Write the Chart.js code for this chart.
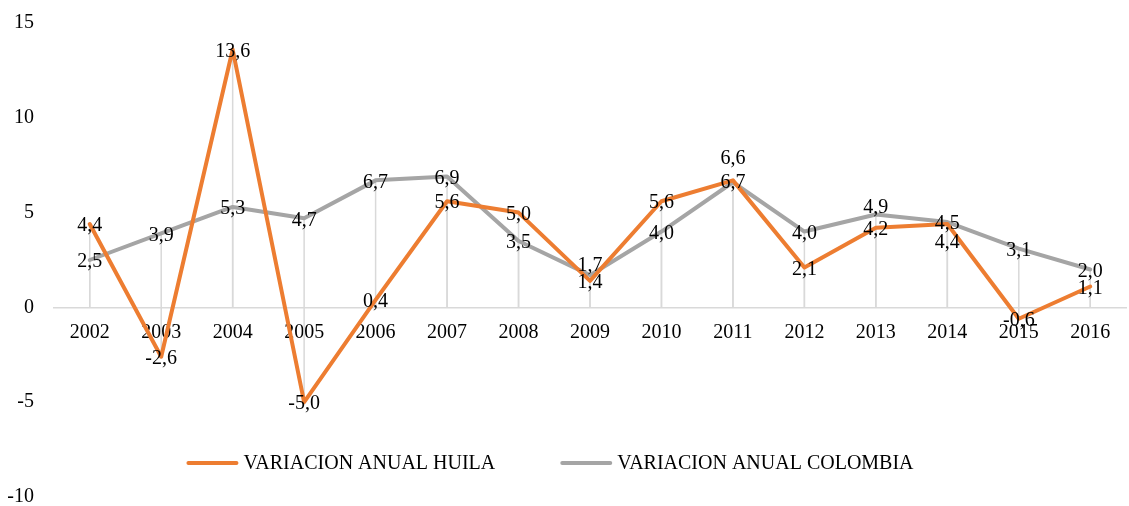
<!DOCTYPE html>
<html>
<head>
<meta charset="utf-8">
<script src="https://cdn.jsdelivr.net/npm/chart.js@4.4.1/dist/chart.umd.min.js"></script>
<style>
    html, body { margin: 0; padding: 0; background: #fff; }
    #wrap { width: 1129px; height: 506px; }
</style>
</head>
<body>
<div id="wrap"><canvas id="chart"></canvas></div>
<script>
const years = ['2002', '2003', '2004', '2005', '2006', '2007', '2008', '2009', '2010', '2011', '2012', '2013', '2014', '2015', '2016'];
const huila = [4.4, -2.6, 13.6, -5.0, 0.4, 5.6, 5.0, 1.4, 5.6, 6.7, 2.1, 4.2, 4.4, -0.6, 1.1];
const colombia = [2.5, 3.9, 5.3, 4.7, 6.7, 6.9, 3.5, 1.7, 4.0, 6.6, 4.0, 4.9, 4.5, 3.1, 2.0];
const yTicks = [-10, -5, 0, 5, 10, 15];
const seriesNames = ['VARIACION ANUAL HUILA', 'VARIACION ANUAL COLOMBIA'];

const FONT = '"Liberation Serif", "Times New Roman", serif';
const TEXT = '#000';

// a few labels were nudged by hand in the original (dataset -> index -> px)
const labelNudge = {
    0: { 12: 17 },
    1: { 7: -11, 9: -26, 11: -9 },
};

const dropLines = {
    id: 'dropLines',
    beforeDatasetsDraw(chart) {
        const { ctx } = chart;
        const zero = chart.scales.y.getPixelForValue(0);
        ctx.save();
        ctx.strokeStyle = '#d9d9d9';
        ctx.lineWidth = 1.5;
        chart.data.datasets.forEach((ds, i) => {
            chart.getDatasetMeta(i).data.forEach((pt) => {
                ctx.beginPath();
                ctx.moveTo(pt.x, pt.y);
                ctx.lineTo(pt.x, zero);
                ctx.stroke();
            });
        });
        ctx.restore();
    },
};

const valueLabels = {
    id: 'valueLabels',
    afterDatasetsDraw(chart) {
        const { ctx } = chart;
        ctx.save();
        ctx.font = '20px ' + FONT;
        ctx.fillStyle = TEXT;
        ctx.textAlign = 'center';
        ctx.textBaseline = 'middle';
        chart.data.datasets.forEach((ds, i) => {
            chart.getDatasetMeta(i).data.forEach((pt, j) => {
                const nudge = (labelNudge[i] && labelNudge[i][j]) || 0;
                const txt = ds.data[j].toFixed(1).replace('.', ',');
                ctx.fillText(txt, pt.x, pt.y + 2 + nudge);
            });
        });
        ctx.restore();
    },
};

const bottomLegend = {
    id: 'bottomLegend',
    afterDraw(chart) {
        const { ctx } = chart;
        const centerX = 550;
        const y = 463;
        const lineLen = 52;
        const gap = 5;
        const itemGap = 65;
        ctx.save();
        ctx.font = '20px ' + FONT;
        const items = chart.data.datasets.map((ds) => ({
            color: ds.borderColor,
            label: ds.label,
            w: lineLen + gap + ctx.measureText(ds.label).width,
        }));
        const total = items.reduce((s, it) => s + it.w, 0) + itemGap * (items.length - 1);
        let x = centerX - total / 2;
        items.forEach((it) => {
            ctx.strokeStyle = it.color;
            ctx.lineWidth = 4;
            ctx.lineCap = 'round';
            ctx.beginPath();
            ctx.moveTo(x + 2, y);
            ctx.lineTo(x + lineLen - 2, y);
            ctx.stroke();
            ctx.fillStyle = TEXT;
            ctx.textAlign = 'left';
            ctx.textBaseline = 'middle';
            ctx.fillText(it.label, x + lineLen + gap, y + 1);
            x += it.w + itemGap;
        });
        ctx.restore();
    },
};

Chart.defaults.font.family = FONT;
Chart.defaults.font.size = 20;
Chart.defaults.color = TEXT;

new Chart(document.getElementById('chart'), {
    type: 'line',
    data: {
        labels: years,
        datasets: [
            {
                label: seriesNames[0],
                data: huila,
                borderColor: '#ED7D31',
                backgroundColor: '#ED7D31',
            },
            {
                label: seriesNames[1],
                data: colombia,
                borderColor: '#A5A5A5',
                backgroundColor: '#A5A5A5',
            },
        ].map((ds) => ({
            ...ds,
            borderWidth: 4,
            pointRadius: 0,
            pointHoverRadius: 0,
            tension: 0,
            borderCapStyle: 'round',
            borderJoinStyle: 'round',
        })),
    },
    options: {
        responsive: true,
        maintainAspectRatio: false,
        animation: false,
        layout: { padding: { top: 0, left: 7, right: 3, bottom: 0 } },
        scales: {
            x: {
                position: { y: 0 },
                offset: true,
                afterFit: (scale) => {
                    // axis sits on y=0, it should not eat space at the bottom
                    scale.height = 0;
                },
                grid: { display: false, drawTicks: false },
                border: { display: true, color: '#d9d9d9', width: 1.5 },
                ticks: { padding: 13, color: TEXT, maxRotation: 0, autoSkip: false },
            },
            y: {
                min: -10,
                max: 15,
                afterBuildTicks: (scale) => {
                    scale.ticks = yTicks.map((v) => ({ value: v }));
                },
                afterFit: (scale) => {
                    scale.width = 47;
                    // tick padding would otherwise push the plot in from top and bottom
                    scale.paddingTop = 23;
                    scale.paddingBottom = 9;
                },
                grid: { display: false, drawTicks: false },
                border: { display: false },
                ticks: { padding: 20, color: TEXT },
            },
        },
        plugins: {
            legend: { display: false },
            tooltip: { enabled: false },
        },
    },
    plugins: [dropLines, valueLabels, bottomLegend],
});
</script>
</body>
</html>
